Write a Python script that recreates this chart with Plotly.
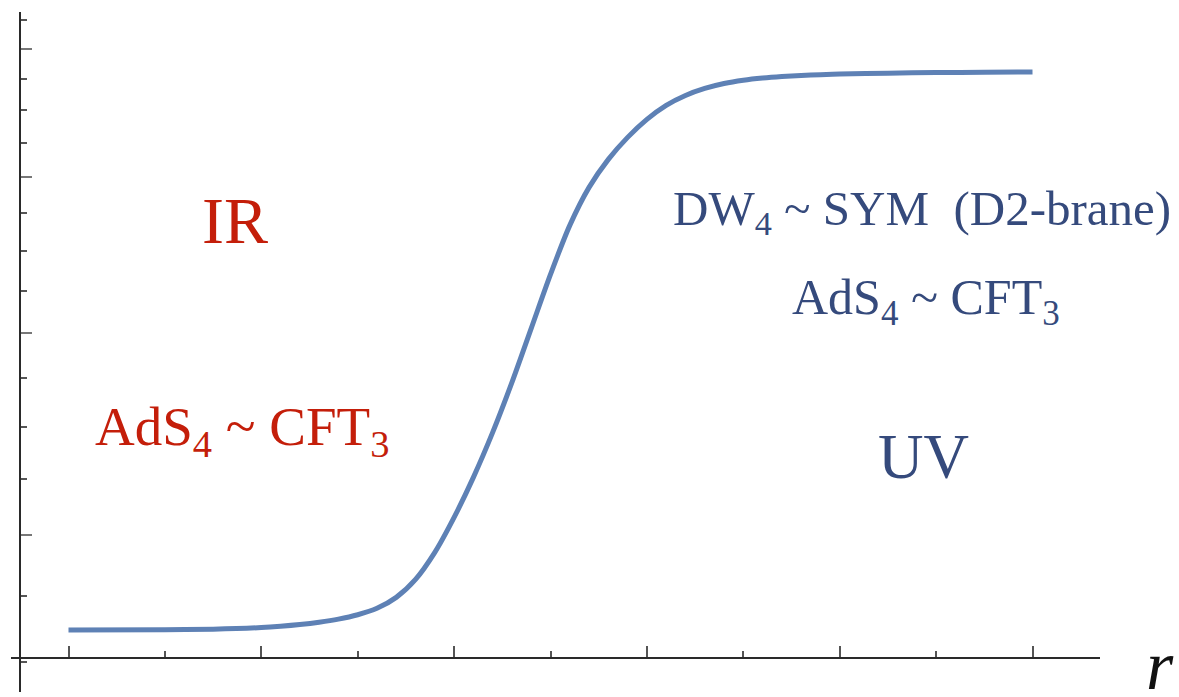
import plotly.graph_objects as go

# ---- data ----
r_vals = [0.0, 0.5, 0.75, 1.0, 1.1, 1.2, 1.3, 1.4, 1.5, 1.6, 1.7, 1.8, 1.9, 2.0,
          2.1, 2.2, 2.3, 2.4, 2.5, 2.6, 2.7, 2.8, 2.9, 3.0, 3.1, 3.2, 3.3, 3.4,
          3.5, 3.6, 3.7, 3.8, 3.9, 4.0, 4.25, 4.5, 4.75, 5.0]
f_vals = [10.474, 10.477, 10.486, 10.510, 10.529, 10.555, 10.590, 10.637, 10.704,
          10.803, 10.973, 11.258, 11.701, 12.300, 13.023, 13.886, 14.913, 16.108,
          17.399, 18.659, 19.699, 20.502, 21.156, 21.707, 22.145, 22.460, 22.685,
          22.845, 22.952, 23.024, 23.074, 23.110, 23.136, 23.156, 23.186, 23.206,
          23.216, 23.226]

x_major = [0, 1, 2, 3, 4, 5]
x_minor = [0.5, 1.5, 2.5, 3.5, 4.5]
y_major = [12, 16, 20, 24]
y_minor = [10, 11, 13, 14, 15, 17, 18, 19, 21, 22, 23, 25]

labels_ir = ["IR", "AdS<sub>4</sub> ~ CFT<sub>3</sub>"]
labels_uv = ["DW<sub>4</sub> ~ SYM\u00a0\u00a0(D2-brane)", "AdS<sub>4</sub> ~ CFT<sub>3</sub>", "UV"]
axis_label = "r"

# ---- layout geometry ----
W, H = 1179, 697
L, R, T, B = 11, 79, 12, 5
PW, PH = W - L - R, H - T - B

def px(xp):
    return (xp - L) / PW

def py(yp):
    return (H - B - yp) / PH

RED = "#C41E0A"
BLUE = "#354A7C"
FONT = "Liberation Serif"

fig = go.Figure()
fig.add_trace(go.Scatter(
    x=r_vals, y=f_vals, mode="lines",
    line=dict(color="#5E81B5", width=5, shape="spline", smoothing=0.8),
    hoverinfo="skip", showlegend=False,
))

annos = [
    (labels_ir[0], 235, 220, 66, RED),
    (labels_ir[1], 242, 430, 55, RED),
    (labels_uv[0], 922, 212, 49, BLUE),
    (labels_uv[1], 926, 301, 50, BLUE),
    (labels_uv[2], 923, 457, 63, BLUE),
]
annotations = []
for text, xp, yp, size, col in annos:
    annotations.append(dict(
        text=text, x=px(xp), y=py(yp), xref="paper", yref="paper",
        xanchor="center", yanchor="middle", showarrow=False,
        font=dict(family=FONT, size=size, color=col),
    ))
annotations.append(dict(
    text="<i>" + axis_label + "</i>", x=px(1160), y=py(665), xref="paper", yref="paper",
    xanchor="center", yanchor="middle", showarrow=False,
    font=dict(family=FONT, size=70, color="#111111"),
))

fig.update_layout(
    width=W, height=H,
    margin=dict(l=L, r=R, t=T, b=B, pad=0),
    paper_bgcolor="white", plot_bgcolor="white",
    annotations=annotations,
    xaxis=dict(
        range=[(11 - 68.5) / 192.8, (1100 - 68.5) / 192.8],
        anchor="free", position=py(658),
        showline=True, linecolor="#2a2a2a", linewidth=2,
        showgrid=False, zeroline=False, showticklabels=False,
        ticks="inside", tickmode="array", tickvals=x_major,
        ticklen=11, tickwidth=1.5, tickcolor="#555555",
        minor=dict(ticks="inside", tickmode="array", tickvals=x_minor,
                   ticklen=6, tickwidth=1.5, tickcolor="#555555", showgrid=False),
    ),
    yaxis=dict(
        type="log",
        range=[0.98168, 1.40314],
        anchor="free", position=px(20),
        showline=True, linecolor="#2a2a2a", linewidth=2,
        showgrid=False, zeroline=False, showticklabels=False,
        ticks="inside", tickmode="array", tickvals=y_major,
        ticklen=11, tickwidth=1.5, tickcolor="#777777",
        minor=dict(ticks="inside", tickmode="array", tickvals=y_minor,
                   ticklen=6, tickwidth=1.5, tickcolor="#555555", showgrid=False),
    ),
)

fig.write_html("out.html", config={"displayModeBar": False},
               post_script="document.body.style.margin='0px';document.body.style.overflow='hidden';")
